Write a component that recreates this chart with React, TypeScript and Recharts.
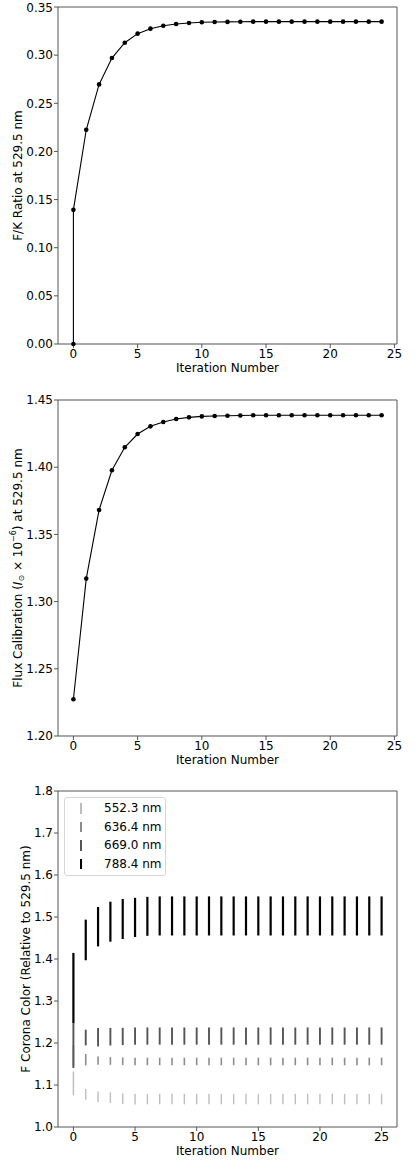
import React from "react";
import {
  LineChart,
  Line,
  ScatterChart,
  Scatter,
  ErrorBar,
  XAxis,
  YAxis,
  ReferenceArea,
  Legend,
} from "recharts";

const FONT = "'DejaVu Sans', 'Liberation Sans', sans-serif";

// panel 1: F/K ratio (first iteration starts from 0)
const fkIterations = [0, 0, 1, 2, 3, 4, 5, 6, 7, 8, 9, 10, 11, 12, 13, 14, 15, 16, 17, 18, 19, 20, 21, 22, 23, 24];
const fkRatio = [
  0, 0.1393, 0.2225, 0.2696, 0.297, 0.3129, 0.3223, 0.3275, 0.3306, 0.3323, 0.3334, 0.3341, 0.3344,
  0.3345, 0.3347, 0.3348, 0.3348, 0.3348, 0.3348, 0.3348, 0.3348, 0.3348, 0.3348, 0.3348, 0.3348, 0.3348,
];

// panel 2: flux calibration
const fluxIterations = [0, 1, 2, 3, 4, 5, 6, 7, 8, 9, 10, 11, 12, 13, 14, 15, 16, 17, 18, 19, 20, 21, 22, 23, 24];
const fluxCalibration = [
  1.2273, 1.3171, 1.3682, 1.3977, 1.4148, 1.4247, 1.4304, 1.4336, 1.4359, 1.4371, 1.4378, 1.4381, 1.4383,
  1.4385, 1.4386, 1.4386, 1.4386, 1.4386, 1.4386, 1.4386, 1.4386, 1.4386, 1.4386, 1.4386, 1.4386,
];

// panel 3: F corona colour ranges
const coronaIterations = [0, 1, 2, 3, 4, 5, 6, 7, 8, 9, 10, 11, 12, 13, 14, 15, 16, 17, 18, 19, 20, 21, 22, 23, 24, 25];
const c552Low = [1.0752, 1.065, 1.0595, 1.0571, 1.055, 1.0538, 1.054, 1.054, 1.054, 1.054, 1.054, 1.054, 1.054, 1.054, 1.054, 1.054, 1.054, 1.054, 1.054, 1.054, 1.054, 1.054, 1.054, 1.054, 1.054, 1.054];
const c552High = [1.1324, 1.0905, 1.0848, 1.0825, 1.08, 1.079, 1.079, 1.079, 1.079, 1.079, 1.079, 1.079, 1.079, 1.079, 1.079, 1.079, 1.079, 1.079, 1.079, 1.079, 1.079, 1.079, 1.079, 1.079, 1.079, 1.079];
const c636Low = [1.145, 1.1467, 1.148, 1.148, 1.1474, 1.147, 1.147, 1.147, 1.147, 1.147, 1.147, 1.147, 1.147, 1.147, 1.147, 1.147, 1.147, 1.147, 1.147, 1.147, 1.147, 1.147, 1.147, 1.147, 1.147, 1.147];
const c636High = [1.195, 1.1738, 1.168, 1.1664, 1.1656, 1.165, 1.165, 1.165, 1.165, 1.165, 1.165, 1.165, 1.165, 1.165, 1.165, 1.165, 1.165, 1.165, 1.165, 1.165, 1.165, 1.165, 1.165, 1.165, 1.165, 1.165];
const c669Low = [1.1405, 1.1944, 1.1919, 1.194, 1.195, 1.196, 1.196, 1.196, 1.196, 1.196, 1.196, 1.196, 1.196, 1.196, 1.196, 1.196, 1.196, 1.196, 1.196, 1.196, 1.196, 1.196, 1.196, 1.196, 1.196, 1.196];
const c669High = [1.2476, 1.2317, 1.2357, 1.236, 1.236, 1.237, 1.237, 1.237, 1.237, 1.237, 1.237, 1.237, 1.237, 1.237, 1.237, 1.237, 1.237, 1.237, 1.237, 1.237, 1.237, 1.237, 1.237, 1.237, 1.237, 1.237];
const c788Low = [1.2476, 1.397, 1.43, 1.4412, 1.4476, 1.4524, 1.4552, 1.456, 1.456, 1.456, 1.456, 1.456, 1.456, 1.456, 1.456, 1.456, 1.456, 1.456, 1.456, 1.456, 1.456, 1.456, 1.456, 1.456, 1.456, 1.456];
const c788High = [1.4145, 1.4937, 1.5238, 1.5364, 1.5429, 1.5456, 1.548, 1.549, 1.549, 1.549, 1.549, 1.549, 1.549, 1.549, 1.549, 1.549, 1.549, 1.549, 1.549, 1.549, 1.549, 1.549, 1.549, 1.549, 1.549, 1.549];

const coronaSeries = [
  { name: "552.3 nm", low: c552Low, high: c552High, color: "#bdbdbd", width: 1.4 },
  { name: "636.4 nm", low: c636Low, high: c636High, color: "#8c8c8c", width: 1.6 },
  { name: "669.0 nm", low: c669Low, high: c669High, color: "#555555", width: 1.9 },
  { name: "788.4 nm", low: c788Low, high: c788High, color: "#000000", width: 2.2 },
];

const fkData = fkIterations.map((x, i) => ({ x, y: fkRatio[i] }));
const fluxData = fluxIterations.map((x, i) => ({ x, y: fluxCalibration[i] }));
const coronaData = coronaSeries.map((s) =>
  coronaIterations.map((x, i) => ({ x, y: s.low[i], err: [0, s.high[i] - s.low[i]] }))
);

const lineX: [number, number] = [-1.2, 25.2];
const coronaX: [number, number] = [-1.25, 26.25];

const tickStyle = { fontSize: 12, fill: "#000", fontFamily: FONT };
const tickLine = { stroke: "#555" };

const xTitle = (props: any) => {
  const vb = props.viewBox;
  return (
    <text
      x={vb.x + vb.width / 2}
      y={vb.y + 24}
      textAnchor="middle"
      dominantBaseline="central"
      fontSize={12}
      fontFamily={FONT}
      fill="#000"
    >
      Iteration Number
    </text>
  );
};

const yTitle = (offset: number, content: React.ReactNode) => (props: any) => {
  const vb = props.viewBox;
  const cx = vb.x + offset;
  const cy = vb.y + vb.height / 2;
  return (
    <text
      x={cx}
      y={cy}
      transform={`rotate(-90, ${cx}, ${cy})`}
      textAnchor="middle"
      dominantBaseline="central"
      fontSize={12}
      fontFamily={FONT}
      fill="#000"
    >
      {content}
    </text>
  );
};

const CoronaLegend = (props: any) => {
  const items = props.payload || [];
  return (
    <div
      style={{
        border: "1px solid #d6d6d6",
        borderRadius: 3,
        background: "#fff",
        width: 100,
        padding: "1px 0 2px 0",
        fontFamily: FONT,
        fontSize: 12,
        color: "#000",
      }}
    >
      {items.map((entry: any) => {
        const s = coronaSeries.find((c) => c.name === entry.value) || coronaSeries[0];
        return (
          <div key={entry.value} style={{ position: "relative", height: 18.5, lineHeight: "18.5px" }}>
            <span
              style={{
                position: "absolute",
                left: 16 - s.width / 2,
                top: 4,
                width: s.width,
                height: 10.5,
                background: s.color,
              }}
            />
            <span style={{ position: "absolute", left: 39 }}>{entry.value}</span>
          </div>
        );
      })}
    </div>
  );
};

export default function App() {
  return (
    <div style={{ position: "absolute", left: 0, top: 0, width: 415, height: 1163, background: "#fff" }}>
      <div style={{ position: "absolute", left: 0, top: 0 }}>
        <LineChart width={415} height={390} data={fkData} margin={{ top: 7, right: 18, left: 8, bottom: 0 }}>
          <XAxis
            dataKey="x"
            type="number"
            domain={lineX}
            ticks={[0, 5, 10, 15, 20, 25]}
            height={46}
            tick={tickStyle}
            tickLine={tickLine}
            tickSize={4}
            tickMargin={1}
            axisLine={false}
            label={xTitle}
          />
          <YAxis
            dataKey="y"
            type="number"
            domain={[0, 0.35]}
            ticks={[0, 0.05, 0.1, 0.15, 0.2, 0.25, 0.3, 0.35]}
            tickFormatter={(v: number) => v.toFixed(2)}
            width={50}
            tick={tickStyle}
            tickLine={tickLine}
            tickSize={4}
            tickMargin={1}
            axisLine={false}
            label={yTitle(10, "F/K Ratio at 529.5 nm")}
          />
          <ReferenceArea
            x1={lineX[0]}
            x2={lineX[1]}
            y1={0}
            y2={0.35}
            fill="none"
            fillOpacity={0}
            stroke="#555"
            strokeWidth={1}
            ifOverflow="visible"
          />
          <Line
            dataKey="y"
            type="linear"
            stroke="#000"
            strokeWidth={1.1}
            dot={{ r: 2.3, fill: "#000", stroke: "#000", strokeWidth: 0 }}
            isAnimationActive={false}
          />
        </LineChart>
      </div>

      <div style={{ position: "absolute", left: 0, top: 390 }}>
        <LineChart width={415} height={380} data={fluxData} margin={{ top: 10, right: 18, left: 8, bottom: 0 }}>
          <XAxis
            dataKey="x"
            type="number"
            domain={lineX}
            ticks={[0, 5, 10, 15, 20, 25]}
            height={34}
            tick={tickStyle}
            tickLine={tickLine}
            tickSize={4}
            tickMargin={1}
            axisLine={false}
            label={xTitle}
          />
          <YAxis
            dataKey="y"
            type="number"
            domain={[1.2, 1.45]}
            ticks={[1.2, 1.25, 1.3, 1.35, 1.4, 1.45]}
            tickFormatter={(v: number) => v.toFixed(2)}
            width={50}
            tick={tickStyle}
            tickLine={tickLine}
            tickSize={4}
            tickMargin={1}
            axisLine={false}
            label={yTitle(
              10,
              <>
                Flux Calibration (<tspan fontStyle="italic">I</tspan>
                <tspan fontSize={8} dy={3}>⊙</tspan>
                <tspan dy={-3}> × 10</tspan>
                <tspan fontSize={8} dy={-5}>−6</tspan>
                <tspan dy={5}>) at 529.5 nm</tspan>
              </>
            )}
          />
          <ReferenceArea
            x1={lineX[0]}
            x2={lineX[1]}
            y1={1.2}
            y2={1.45}
            fill="none"
            fillOpacity={0}
            stroke="#555"
            strokeWidth={1}
            ifOverflow="visible"
          />
          <Line
            dataKey="y"
            type="linear"
            stroke="#000"
            strokeWidth={1.1}
            dot={{ r: 2.3, fill: "#000", stroke: "#000", strokeWidth: 0 }}
            isAnimationActive={false}
          />
        </LineChart>
      </div>

      <div style={{ position: "absolute", left: 0, top: 770 }}>
        <ScatterChart width={415} height={393} margin={{ top: 21, right: 18, left: 8, bottom: 0 }}>
          <XAxis
            dataKey="x"
            type="number"
            domain={coronaX}
            ticks={[0, 5, 10, 15, 20, 25]}
            height={36}
            tick={tickStyle}
            tickLine={tickLine}
            tickSize={4}
            tickMargin={1}
            axisLine={false}
            label={xTitle}
          />
          <YAxis
            dataKey="y"
            type="number"
            domain={[1.0, 1.8]}
            ticks={[1.0, 1.1, 1.2, 1.3, 1.4, 1.5, 1.6, 1.7, 1.8]}
            tickFormatter={(v: number) => v.toFixed(1)}
            width={50}
            tick={tickStyle}
            tickLine={tickLine}
            tickSize={4}
            tickMargin={1}
            axisLine={false}
            label={yTitle(17.5, "F Corona Color (Relative to 529.5 nm)")}
          />
          <ReferenceArea
            x1={coronaX[0]}
            x2={coronaX[1]}
            y1={1.0}
            y2={1.8}
            fill="none"
            fillOpacity={0}
            stroke="#555"
            strokeWidth={1}
            ifOverflow="visible"
          />
          {coronaSeries.map((s, k) => (
            <Scatter
              key={s.name}
              name={s.name}
              data={coronaData[k]}
              fill={s.color}
              shape={() => <g />}
              isAnimationActive={false}
            >
              <ErrorBar
                dataKey="err"
                direction="y"
                width={0}
                stroke={s.color}
                strokeWidth={s.width}
                isAnimationActive={false}
              />
            </Scatter>
          ))}
          <Legend
            layout="vertical"
            align="center"
            verticalAlign="middle"
            content={CoronaLegend}
            wrapperStyle={{ left: 64, top: 27, width: "auto", height: "auto" }}
          />
        </ScatterChart>
      </div>
    </div>
  );
}
